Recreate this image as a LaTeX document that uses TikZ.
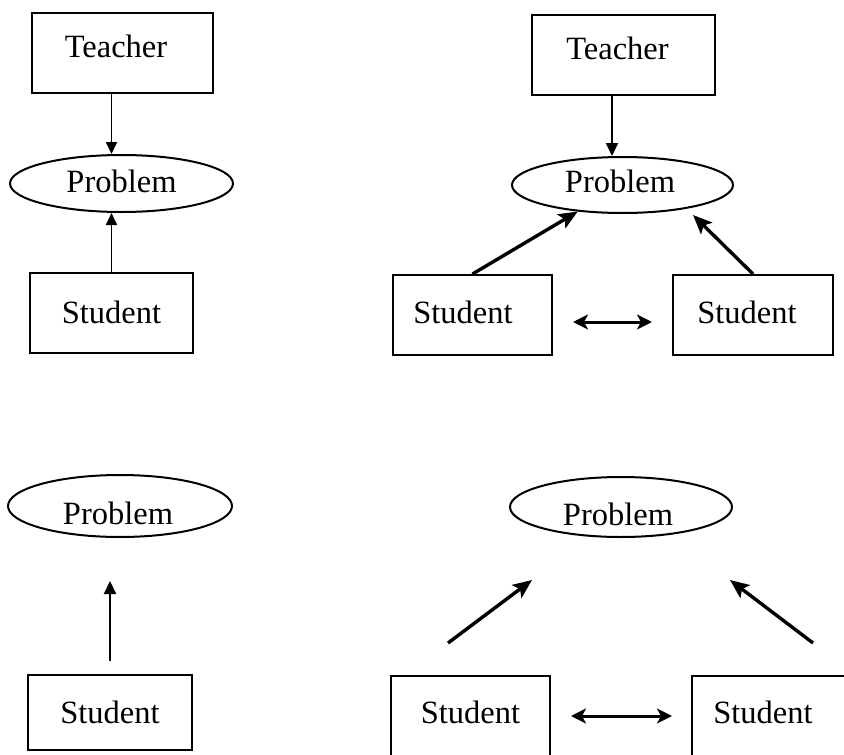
\documentclass[tikz,border=0pt]{standalone}
\usepackage{fontspec}
\setmainfont{Liberation Serif}
\usetikzlibrary{shapes.geometric,arrows.meta}
\begin{document}
\begin{tikzpicture}[x=1pt,y=-1pt,
  every node/.style={font=\fontsize{32.5}{38}\selectfont, inner sep=0pt},
  box/.style={draw, line width=2pt, rectangle, minimum width=#1, minimum height=80pt},
  oval/.style={draw, line width=2pt, ellipse},
  nudge/.style={execute at end node={\hspace*{#1}}},
  thinarrow/.style={line width=1.7pt, -{Triangle[length=12pt,width=11pt]}},
  midarrow/.style={line width=2.2pt, -{Triangle[length=13pt,width=12pt]}},
  boldarrow/.style={line width=3.4pt, -{Stealth[length=19pt,width=16pt,inset=4pt]}},
  twoway/.style={line width=3pt, {Stealth[length=15pt,width=15pt,inset=4pt]}-{Stealth[length=15pt,width=15pt,inset=4pt]}}
]
\useasboundingbox (0,0) rectangle (844,755);
\fill[white] (0,0) rectangle (844,755);
\clip (0,0) rectangle (844,755);

% ---- upper left: teacher-led problem solving
\node[box=181pt, text height=22pt, text depth=14pt, nudge=13pt] (T1) at (122.5,53) {Teacher};
\node[oval, minimum width=223pt, minimum height=57pt, text height=22pt, text depth=5pt] (P1) at (121.5,183.5) {Problem};
\node[box=163pt, text height=22pt, text depth=2pt] (S1) at (111.5,313) {Student};
\draw[thinarrow] (T1.south -| S1.north) -- (S1.north |- P1.north);
\draw[thinarrow] (S1.north) -- (S1.north |- P1.south);

% ---- upper right: teacher with two students
\node[box=183pt, text height=22pt, text depth=14pt, nudge=12pt] (T2) at (623.5,55) {Teacher};
\node[oval, minimum width=221pt, minimum height=56pt, text height=22pt, text depth=8pt, nudge=5pt] (P2) at (622.5,185) {Problem};
\node[box=159pt, text height=22pt, text depth=6pt, nudge=19pt] (S2L) at (472.5,315) {Student};
\node[box=160pt, text height=22pt, text depth=6pt, nudge=12pt] (S2R) at (753,315) {Student};
\coordinate (tipR2) at (693,215);
\draw[midarrow] ([xshift=-11.5pt]T2.south) -- ([xshift=-11.5pt]T2.south |- P2.north);
\draw[boldarrow] (S2L.north) -- (P2);
\draw[boldarrow] (S2R.north) -- (tipR2);
\draw[twoway, shorten <=20pt, shorten >=20pt] ([yshift=-7pt]S2L.east) -- ([yshift=-7pt]S2R.west);

% ---- lower left: student alone
\node[oval, minimum width=224pt, minimum height=62pt, text height=36pt, text depth=0pt, nudge=4pt] (P3) at (120,506) {Problem};
\node[box=164pt, minimum height=75pt, text height=22pt, text depth=1pt] (S3) at (110,712.5) {Student};
\draw[midarrow, shorten <=13pt, shorten >=43pt] (S3.north) -- (S3.north |- P3.south);

% ---- lower right: two students without teacher
\node[oval, minimum width=222pt, minimum height=60pt, text height=36pt, text depth=0pt, nudge=6pt] (P4) at (621,507) {Problem};
\node[box=159pt, text height=22pt, text depth=8pt] (S4L) at (470.5,716) {Student};
\node[box=160pt, text height=22pt, text depth=8pt, nudge=18pt] (S4R) at (772,716) {Student};
\coordinate (tailL4) at (448,643);
\coordinate (tipL4) at (532,580);
\coordinate (tailR4) at (813,643);
\coordinate (tipR4) at (730,580);
\draw[boldarrow] (tailL4) -- (tipL4);
\draw[boldarrow] (tailR4) -- (tipR4);
\draw[twoway, shorten <=20pt, shorten >=19pt] (S4L.east) -- (S4R.west);
\end{tikzpicture}
\end{document}
